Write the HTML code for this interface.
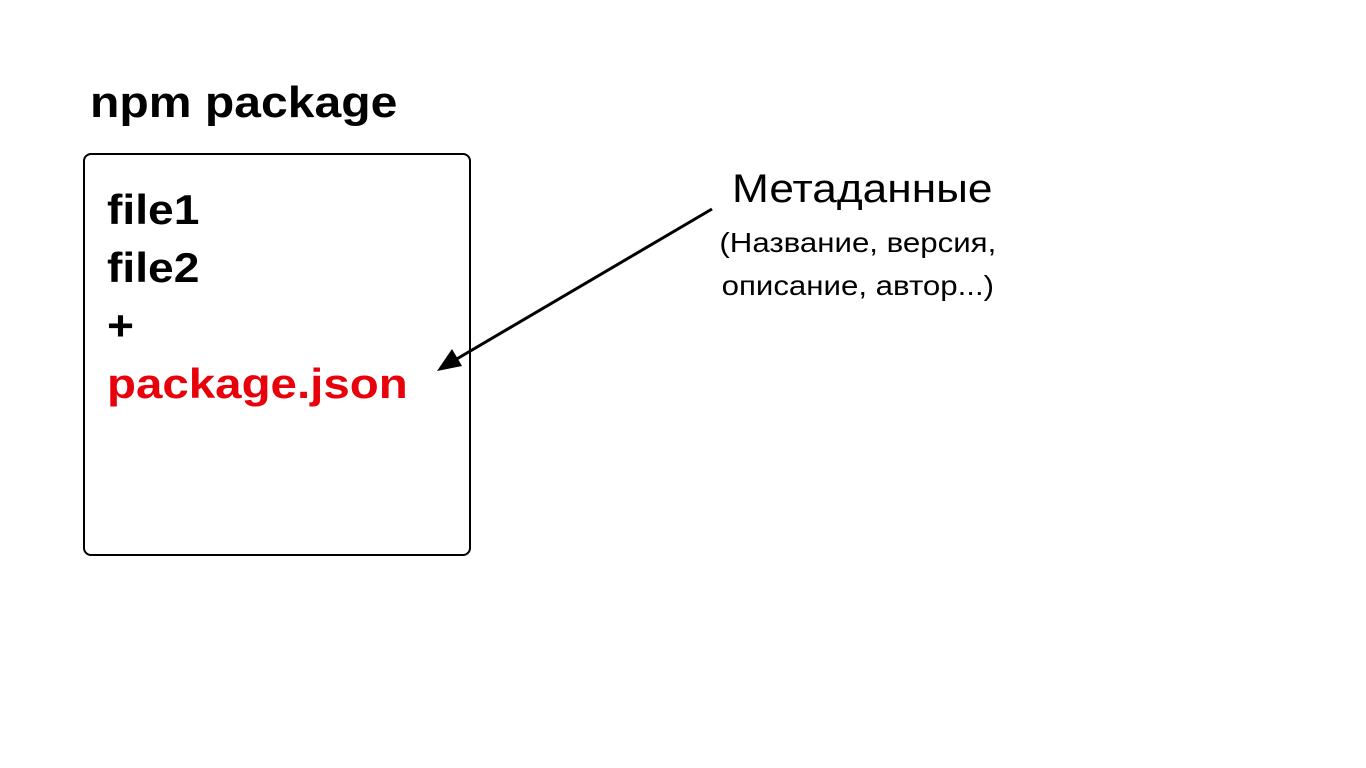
<!DOCTYPE html>
<html><head><meta charset="utf-8"><style>
body{margin:0;width:1366px;height:768px;background:#fff;position:relative;overflow:hidden;font-family:"Liberation Sans",sans-serif}
.t{position:absolute;white-space:nowrap;transform-origin:0 0}
</style></head><body>
<div class="t" style="left:90px;top:78px;font-size:44px;font-weight:bold;color:#000;transform:scaleX(1.093)">npm package</div>
<div style="position:absolute;left:83px;top:153px;width:384px;height:399px;border:2.5px solid #000;border-radius:8px"></div>
<div class="t" style="left:107px;top:181px;font-size:42px;font-weight:bold;line-height:58px;color:#000;transform:scaleX(1.1)">file1<br>file2<br>+</div>
<div class="t" style="left:107px;top:355px;font-size:42px;font-weight:bold;line-height:58px;color:#e8000b;transform:scaleX(1.13)">package.json</div>
<div class="t" style="left:732px;top:167px;font-size:40px;color:#000;transform:scaleX(1.106)">Метаданные</div>
<div class="t" style="left:714px;top:221px;font-size:28px;line-height:43px;color:#000;text-align:center;width:258px;transform:scaleX(1.115)">(Название, версия,<br>описание, автор...)</div>
<svg style="position:absolute;left:0;top:0" width="1366" height="768">
<line x1="712" y1="209" x2="455" y2="360" stroke="#000" stroke-width="3"/>
<polygon points="437,371 452,349 462,366" fill="#000"/>
</svg>
</body></html>
